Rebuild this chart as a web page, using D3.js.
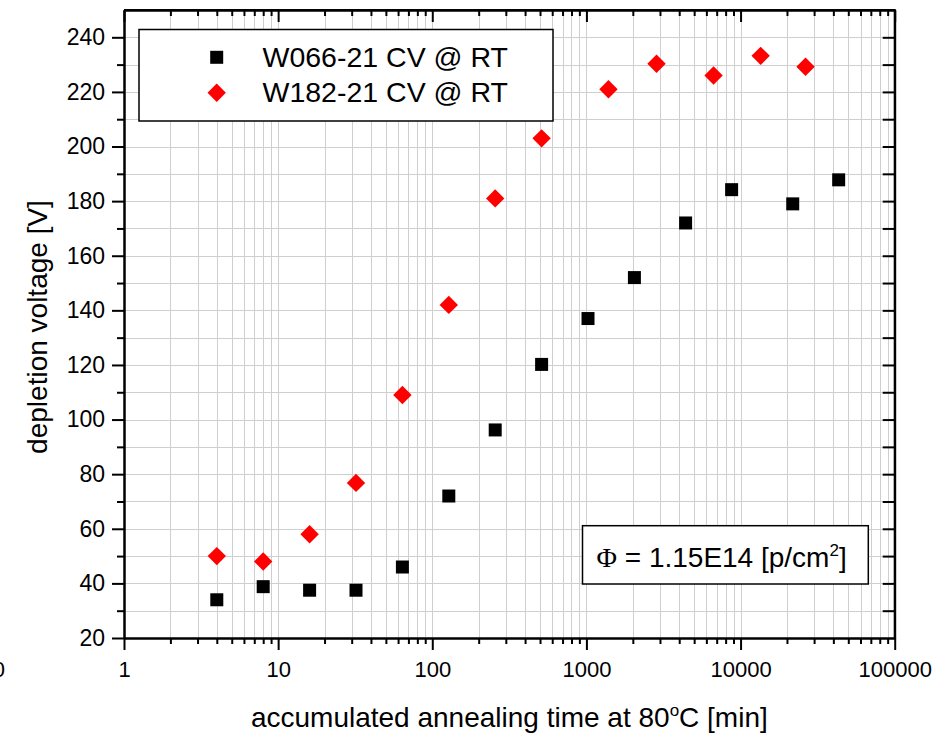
<!DOCTYPE html>
<html>
<head>
<meta charset="utf-8">
<script src="https://cdn.jsdelivr.net/npm/d3@7"></script>
<style>
  body { margin: 0; background: #fff; }
  svg { display: block; font-family: "Liberation Sans", Arial, sans-serif; }
</style>
</head>
<body>
<div id="chart"></div>
<script>
// data
var timeW066 = [4, 8, 16, 32, 64, 128, 256, 512, 1024, 2048, 4400, 8750, 21800, 43300];
var voltW066 = [34, 38.8, 37.5, 37.5, 46, 72, 96.2, 120.2, 137, 152, 172, 184.2, 179, 187.8];
var timeW182 = [4, 8, 16, 32, 64, 128, 256, 512, 1390, 2850, 6680, 13500, 26400];
var voltW182 = [50, 48, 58, 76.8, 109, 142, 181, 203, 221, 230.3, 226, 233.2, 229.2];
var xMajor = [1, 10, 100, 1000, 10000, 100000];
var yMajor = [20, 40, 60, 80, 100, 120, 140, 160, 180, 200, 220, 240];
var legendLabels = ["W066-21 CV @ RT", "W182-21 CV @ RT"];

var W = 951, H = 733;
var plotLeft = 124, plotRight = 894.7, plotTop = 10, plotBottom = 638;

var svg = d3.select("#chart").append("svg")
    .attr("width", W)
    .attr("height", H);

var x = d3.scaleLog().domain([1, 100000]).range([plotLeft, plotRight]);
var y = d3.scaleLinear().domain([20, 250]).range([plotBottom, plotTop]);

// minor values
var xMinor = [];
xMajor.slice(0, -1).forEach(function(d) {
  for (var k = 2; k <= 9; k++) xMinor.push(d * k);
});
var yMinor = d3.range(30, 250, 20);
var yAll = d3.range(30, 250, 10);

// grid
var grid = svg.append("g").attr("stroke", "#cfcfcf").attr("stroke-width", 1);
grid.selectAll("line.v")
    .data(xMinor.concat(xMajor.slice(1, -1)))
    .enter().append("line")
    .attr("x1", function(d) { return Math.round(x(d)) + 0.5; })
    .attr("x2", function(d) { return Math.round(x(d)) + 0.5; })
    .attr("y1", plotTop).attr("y2", plotBottom);
grid.selectAll("line.h")
    .data(yAll)
    .enter().append("line")
    .attr("y1", function(d) { return Math.round(y(d)) + 0.5; })
    .attr("y2", function(d) { return Math.round(y(d)) + 0.5; })
    .attr("x1", plotLeft).attr("x2", plotRight);

function styleAxis(g) {
  g.select(".domain").attr("stroke-width", 2);
  g.selectAll(".tick line").attr("stroke-width", 2);
  g.selectAll("text").attr("fill", "#000");
}

// bottom axis
svg.append("g")
    .attr("transform", "translate(0," + plotBottom + ")")
    .call(d3.axisBottom(x).tickValues(xMinor).tickSize(6).tickSizeOuter(0).tickFormat(""))
    .call(styleAxis);
svg.append("g")
    .attr("transform", "translate(0," + plotBottom + ")")
    .call(d3.axisBottom(x).tickValues(xMajor).tickSize(12).tickSizeOuter(0).tickPadding(11)
      .tickFormat(d3.format("d")))
    .call(styleAxis)
    .selectAll("text").attr("font-size", 22);

// stray label at the far left edge
svg.append("text")
    .attr("x", 5).attr("y", 677)
    .attr("text-anchor", "end")
    .attr("font-size", 22)
    .text("0");

// top axis (inward)
svg.append("g")
    .attr("transform", "translate(0," + plotTop + ")")
    .call(d3.axisTop(x).tickValues(xMinor).tickSize(-6).tickSizeOuter(0).tickFormat(""))
    .call(styleAxis);
svg.append("g")
    .attr("transform", "translate(0," + plotTop + ")")
    .call(d3.axisTop(x).tickValues(xMajor).tickSize(-12).tickSizeOuter(0).tickFormat(""))
    .call(styleAxis);

// left axis
svg.append("g")
    .attr("transform", "translate(" + plotLeft + ",0)")
    .call(d3.axisLeft(y).tickValues(yMinor).tickSize(7).tickSizeOuter(0).tickFormat(""))
    .call(styleAxis);
svg.append("g")
    .attr("transform", "translate(" + plotLeft + ",0)")
    .call(d3.axisLeft(y).tickValues(yMajor).tickSize(12).tickSizeOuter(0).tickPadding(7))
    .call(styleAxis)
    .selectAll("text").attr("font-size", 23);

// right axis (inward)
svg.append("g")
    .attr("transform", "translate(" + plotRight + ",0)")
    .call(d3.axisRight(y).tickValues(yAll).tickSize(-12).tickSizeOuter(0).tickFormat(""))
    .call(styleAxis);

// frame edges
svg.append("line").attr("x1", plotLeft).attr("x2", plotRight).attr("y1", plotTop).attr("y2", plotTop)
    .attr("stroke", "#000").attr("stroke-width", 2);
svg.append("line").attr("x1", plotRight).attr("x2", plotRight).attr("y1", plotTop - 1).attr("y2", plotBottom + 1)
    .attr("stroke", "#000").attr("stroke-width", 2);

var square = d3.symbol().type(d3.symbolSquare).size(169);

// W066 squares
svg.append("g").selectAll("path")
    .data(timeW066.map(function(t, i) { return [t, voltW066[i]]; }))
    .enter().append("path")
    .attr("d", square)
    .attr("fill", "#000")
    .attr("transform", function(d) { return "translate(" + x(d[0]) + "," + y(d[1]) + ")"; });

// W182 diamonds
svg.append("g").selectAll("path")
    .data(timeW182.map(function(t, i) { return [t, voltW182[i]]; }))
    .enter().append("path")
    .attr("d", square)
    .attr("fill", "#ff0000")
    .attr("transform", function(d) { return "translate(" + x(d[0]) + "," + y(d[1]) + ") rotate(45)"; });

// legend
var legend = svg.append("g");
legend.append("rect")
    .attr("x", 139).attr("y", 29.5).attr("width", 414).attr("height", 91.5)
    .attr("fill", "#fff").attr("stroke", "#000").attr("stroke-width", 1.5);
legend.append("path").attr("d", square).attr("fill", "#000")
    .attr("transform", "translate(216.7,57.3)");
legend.append("path").attr("d", square).attr("fill", "#ff0000")
    .attr("transform", "translate(216.7,92.7) rotate(45)");
legend.selectAll("text")
    .data(legendLabels)
    .enter().append("text")
    .attr("x", 262.5)
    .attr("y", function(d, i) { return 67 + i * 35.3; })
    .attr("font-size", 28.5)
    .text(function(d) { return d; });

// fluence box
svg.append("rect")
    .attr("x", 582.5).attr("y", 525.7).attr("width", 285.8).attr("height", 58.3)
    .attr("fill", "#fff").attr("stroke", "#000").attr("stroke-width", 1.5);
var phi = svg.append("text")
    .attr("x", 596.5).attr("y", 566.5)
    .attr("font-size", 28);
phi.append("tspan").attr("font-family", "Liberation Serif, serif").text("\u03A6");
phi.append("tspan").text(" = 1.15E14 [p/cm");
phi.append("tspan").attr("font-size", 17).attr("dy", -11).text("2");
phi.append("tspan").attr("dy", 11).text("]");

// axis titles
var xt = svg.append("text")
    .attr("x", (plotLeft + plotRight) / 2).attr("y", 727)
    .attr("text-anchor", "middle")
    .attr("font-size", 28);
xt.append("tspan").text("accumulated annealing time at 80");
xt.append("tspan").attr("font-size", 17).attr("dy", -11).text("o");
xt.append("tspan").attr("dy", 11).text("C [min]");

svg.append("text")
    .attr("transform", "translate(47,327) rotate(-90)")
    .attr("text-anchor", "middle")
    .attr("font-size", 28)
    .text("depletion voltage [V]");
</script>
</body>
</html>
